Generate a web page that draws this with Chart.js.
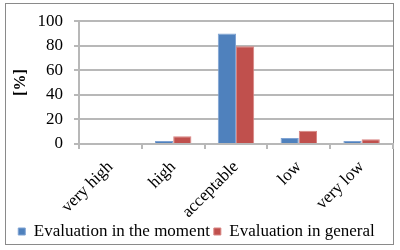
<!DOCTYPE html>
<html>
<head>
<meta charset="utf-8">
<script src="https://cdn.jsdelivr.net/npm/chart.js@4"></script>
<style>
  html, body { margin: 0; padding: 0; background: #fff; }
  #wrap { width: 400px; height: 250px; }
</style>
</head>
<body>
<div id="wrap"><canvas id="chart" width="400" height="250"></canvas></div>
<script>
const categories = ["very high", "high", "acceptable", "low", "very low"];
const moment = [0, 2.5, 90, 4.8, 2.5];
const general = [0, 6.3, 79.7, 10.7, 3.8];
const seriesNames = ["Evaluation in the moment", "Evaluation in general"];

const serif = "'Liberation Serif', 'Times New Roman', serif";

// outer gray frame around the whole chart
const frame = {
  id: "frame",
  beforeDraw(chart) {
    const c = chart.ctx;
    c.save();
    c.fillStyle = "#fff";
    c.fillRect(0, 0, chart.width, chart.height);
    c.strokeStyle = "#8a8a8a";
    c.lineWidth = 1;
    c.strokeRect(5.5, 3.5, 388, 241);
    c.restore();
  },
};

const ctx = document.getElementById("chart").getContext("2d");
new Chart(ctx, {
  type: "bar",
  data: {
    labels: categories,
    datasets: [
      {
        label: seriesNames[0],
        data: moment,
        backgroundColor: "#4F81BD",
        borderColor: "#7fa3d3",
        borderWidth: 1,
      },
      {
        label: seriesNames[1],
        data: general,
        backgroundColor: "#C0504D",
        borderColor: "#d88583",
        borderWidth: 1,
      },
    ],
  },
  options: {
    responsive: false,
    animation: false,
    layout: { padding: { top: 12, right: 7, bottom: 0, left: 0 } },
    datasets: { bar: { categoryPercentage: 0.58, barPercentage: 1 } },
    plugins: {
      legend: {
        position: "bottom",
        labels: {
          color: "#000",
          font: { family: serif, size: 17 },
          boxWidth: 7,
          boxHeight: 7,
          padding: 4,
        },
      },
      tooltip: { enabled: false },
    },
    scales: {
      x: {
        afterFit: (s) => { s.height = 75; },
        grid: { drawOnChartArea: false, color: "#b8b8b8", lineWidth: 2, tickLength: 5 },
        border: { color: "#b8b8b8", width: 2 },
        ticks: {
          color: "#000",
          font: { family: serif, size: 17 },
          minRotation: 45,
          maxRotation: 45,
          padding: 8,
        },
      },
      y: {
        min: 0,
        max: 100,
        afterFit: (s) => { s.width = 79; },
        grid: { color: "#b8b8b8", lineWidth: 2, tickLength: 5 },
        border: { color: "#b8b8b8", width: 2 },
        ticks: {
          stepSize: 20,
          color: "#000",
          font: { family: serif, size: 17 },
          padding: 11,
        },
        title: {
          display: true,
          text: "[%]",
          color: "#000",
          font: { family: serif, size: 16, weight: "bold" },
          padding: { top: 11, bottom: 0 },
        },
      },
    },
  },
  plugins: [frame],
});
</script>
</body>
</html>
